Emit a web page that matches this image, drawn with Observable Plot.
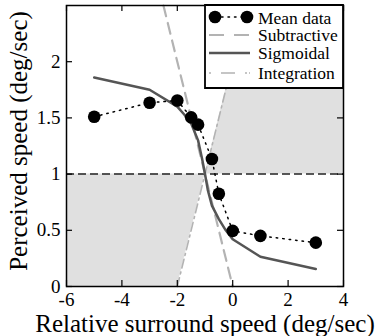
<!DOCTYPE html>
<html><head><meta charset="utf-8">
<script src="https://cdn.jsdelivr.net/npm/d3@7"></script>
<script src="https://cdn.jsdelivr.net/npm/@observablehq/plot@0.6"></script>
<style>body{margin:0;background:#fff} #chart svg{display:block}</style>
</head><body><div id="chart"></div>
<script>
// Data
const meanX = [-5, -3, -2, -1.5, -1.25, -0.75, -0.5, 0, 1, 3];
const meanY = [1.51, 1.635, 1.655, 1.505, 1.44, 1.135, 0.825, 0.495, 0.45, 0.39];
const sigX = [-5, -3, -2, -1.75, -1.5, -1.25, -1.1, -1, -0.9, -0.75, -0.5, -0.25, 0, 1, 3];
const sigY = [1.86, 1.75, 1.60, 1.53, 1.45, 1.30, 1.13, 1.0, 0.86, 0.72, 0.60, 0.50, 0.42, 0.265, 0.155];
const subX = [-2.5, 0];
const subY = [2.5, 0];
const intX = [-2, 0.5];
const intY = [0, 2.5];
const refY = [1];
const shadeLowX = [-6, -2, -1];
const shadeLowY1 = [0, 0, 1];
const shadeLowY2 = [1, 1, 1];
const shadeHighX = [-1, 0.5, 4];
const shadeHighY1 = [1, 1, 1];
const shadeHighY2 = [1, 2.5, 2.5];
const xTicks = [-6, -4, -2, 0, 2, 4];
const yTicks = [0, 0.5, 1, 1.5, 2];
const legendLabels = ["Mean data", "Subtractive", "Sigmoidal", "Integration"];
const xLabel = "Relative surround speed (deg/sec)";
const yLabel = "Perceived speed (deg/sec)";

const FONT = "'Liberation Serif', 'Times New Roman', serif";
const mean = meanX.map((x, i) => ({x, y: meanY[i]}));
const sig = sigX.map((x, i) => ({x, y: sigY[i]}));
const sub = subX.map((x, i) => ({x, y: subY[i]}));
const integ = intX.map((x, i) => ({x, y: intY[i]}));
const low = shadeLowX.map((x, i) => ({x, y1: shadeLowY1[i], y2: shadeLowY2[i]}));
const high = shadeHighX.map((x, i) => ({x, y1: shadeHighY1[i], y2: shadeHighY2[i]}));

const W = 376, H = 336, ML = 66, MR = 33, MT = 5, MB = 50;
const PW = W - ML - MR, PH = H - MT - MB, TICK = 6;
const LW = 138, LH = 83;

function legend(index, scales, values, dims) {
  const right = dims.width - dims.marginRight, top = dims.marginTop;
  const bx = right - LW;
  const g = d3.create("svg:g").attr("font-family", FONT).attr("font-size", 17.5)
    .attr("text-anchor", "start");
  g.append("path")
    .attr("d", `M${bx},${top}H${right}V${top + LH}H${bx}Z`)
    .attr("fill", "white").attr("stroke", "black").attr("stroke-width", 1.8);
  const rows = [12, 30, 48, 68];
  const x0 = bx + 4, x1 = bx + 45;
  g.append("line").attr("x1", bx + 10).attr("x2", bx + 42).attr("y1", top + rows[0]).attr("y2", top + rows[0])
    .attr("stroke", "black").attr("stroke-width", 1.5).attr("stroke-dasharray", "1.5,5").attr("stroke-linecap", "round");
  [bx + 10, bx + 42].forEach(cx => g.append("circle").attr("cx", cx).attr("cy", top + rows[0]).attr("r", 6.3).attr("fill", "black"));
  g.append("line").attr("x1", x0).attr("x2", x1).attr("y1", top + rows[1]).attr("y2", top + rows[1])
    .attr("stroke", "#b3b3b3").attr("stroke-width", 2.2).attr("stroke-dasharray", "15,10");
  g.append("line").attr("x1", x0).attr("x2", x1).attr("y1", top + rows[2]).attr("y2", top + rows[2])
    .attr("stroke", "#555").attr("stroke-width", 2.5);
  g.append("line").attr("x1", x0).attr("x2", x1).attr("y1", top + rows[3]).attr("y2", top + rows[3])
    .attr("stroke", "#b3b3b3").attr("stroke-width", 1.6).attr("stroke-dasharray", "2,10,14,10,2");
  legendLabels.forEach((t, i) => g.append("text").attr("x", bx + 53).attr("y", top + rows[i] + (i === 0 ? 1.5 : 0)).attr("dy", "0.32em")
    .attr("fill", "black").text(t));
  return g.node();
}

const chart = Plot.plot({
  width: W, height: H,
  marginLeft: ML, marginRight: MR, marginTop: MT, marginBottom: MB,
  style: {fontFamily: FONT, background: "white", color: "black"},
  x: {domain: [-6, 4]},
  y: {domain: [0, 2.5]},
  marks: [
    Plot.areaY(low, {x: "x", y1: "y1", y2: "y2", fill: "#e0e0e0"}),
    Plot.areaY(high, {x: "x", y1: "y1", y2: "y2", fill: "#e0e0e0"}),
    Plot.ruleY(refY, {y: d => d, stroke: "#222", strokeWidth: 1.5, strokeDasharray: "8,4"}),
    Plot.line(sub, {x: "x", y: "y", stroke: "#b3b3b3", strokeWidth: 2.2, strokeDasharray: "11,7"}),
    Plot.line(integ, {x: "x", y: "y", stroke: "#b3b3b3", strokeWidth: 1.6, strokeDasharray: "9,4,2,4"}),
    Plot.line(sig, {x: "x", y: "y", stroke: "#555", strokeWidth: 2.5}),
    Plot.line(mean, {x: "x", y: "y", stroke: "black", strokeWidth: 1.5, strokeDasharray: "1.5,5", strokeLinecap: "round"}),
    Plot.dot(mean, {x: "x", y: "y", r: 6.3, fill: "black"}),
    Plot.frame({stroke: "black", strokeWidth: 1.5}),
    Plot.ruleX(xTicks, {x: d => d, insetTop: PH - TICK, stroke: "black", strokeWidth: 1.2}),
    Plot.ruleX(xTicks, {x: d => d, insetBottom: PH - TICK, stroke: "black", strokeWidth: 1.2}),
    Plot.ruleY(yTicks, {y: d => d, insetRight: PW - TICK, stroke: "black", strokeWidth: 1.2}),
    Plot.ruleY(yTicks, {y: d => d, insetLeft: PW - TICK, stroke: "black", strokeWidth: 1.2}),
    Plot.axisX({ticks: xTicks, tickSize: 0, tickPadding: 6, tickFormat: d => String(d), fontSize: 19, label: null}),
    Plot.axisY({ticks: yTicks, tickSize: 0, tickPadding: 6, tickFormat: d => String(d), fontSize: 19, label: null}),
    Plot.text([xLabel], {frameAnchor: "bottom", textAnchor: "middle", lineAnchor: "middle", dy: 37, fontSize: 25, text: d => d}),
    Plot.text([yLabel], {frameAnchor: "left", rotate: -90, textAnchor: "middle", lineAnchor: "middle", dx: -48, dy: -5, fontSize: 25, text: d => d}),
    legend
  ]
});
document.getElementById("chart").appendChild(chart);
</script>
</body></html>
